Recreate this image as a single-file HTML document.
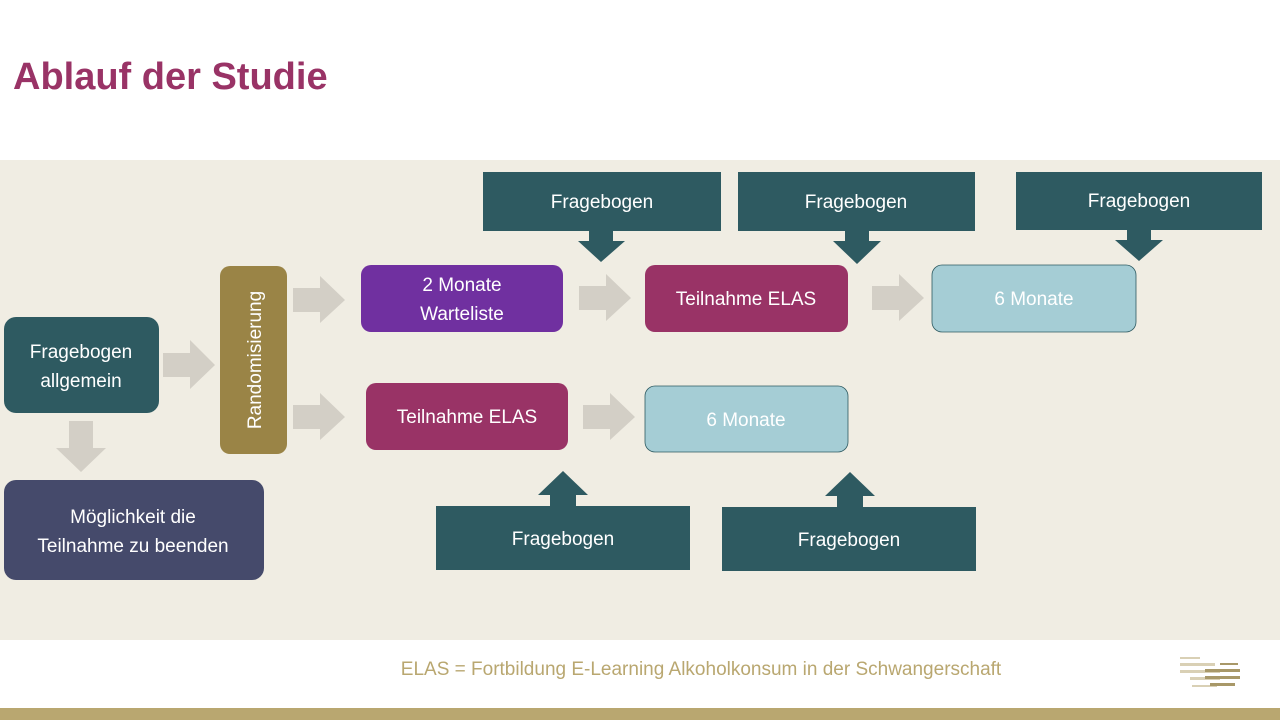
<!DOCTYPE html>
<html><head><meta charset="utf-8"><style>
body{margin:0;width:1280px;height:720px;overflow:hidden;background:#fff;font-family:"Liberation Sans",sans-serif}
</style></head><body>
<svg width="1280" height="720" viewBox="0 0 1280 720" xmlns="http://www.w3.org/2000/svg" font-family="Liberation Sans, sans-serif">
<rect width="1280" height="720" fill="#fff"/>
<text x="13" y="89" font-size="38" font-weight="bold" fill="#993366">Ablauf der Studie</text>
<rect x="0" y="160" width="1280" height="480" fill="#f0ede3"/>
<rect x="0" y="708" width="1280" height="12" fill="#b9a770"/>
<text x="701" y="675" font-size="19" fill="#b9a770" text-anchor="middle">ELAS = Fortbildung E-Learning Alkoholkonsum in der Schwangerschaft</text>
<g fill="#d9d0b5"><rect x="1180" y="657" width="20" height="2"/><rect x="1180" y="663" width="35" height="3"/><rect x="1180" y="670" width="40" height="3"/><rect x="1190" y="677" width="30" height="3"/><rect x="1192" y="685" width="25" height="2"/></g>
<g fill="#a89868"><rect x="1220" y="663" width="18" height="2"/><rect x="1205" y="669" width="35" height="3"/><rect x="1205" y="676" width="35" height="3"/><rect x="1210" y="683" width="25" height="3"/></g>
<g fill="#d3cfc6">
<path d="M163 353H190V340L215 365L190 389V377H163Z"/>
<path d="M293 288H320V276L345 300L320 323V312H293Z"/>
<path d="M293 405H320V393L345 417L320 440V429H293Z"/>
<path d="M579 286H606V274L631 298L606 321V310H579Z"/>
<path d="M872 286H899V274L924 298L899 321V310H872Z"/>
<path d="M583 405H610V393L635 417L610 440V429H583Z"/>
<path d="M69 421H93V448H106L81 472L56 448H69Z"/>
</g>
<rect x="4" y="317" width="155" height="96" rx="12" fill="#2e5a61"/>
<text fill="#fff" font-size="19" text-anchor="middle"><tspan x="81" y="358">Fragebogen</tspan><tspan x="81" y="387">allgemein</tspan></text>
<rect x="4" y="480" width="260" height="100" rx="12" fill="#454a6b"/>
<text fill="#fff" font-size="19" text-anchor="middle"><tspan x="133" y="523">Möglichkeit die</tspan><tspan x="133" y="552">Teilnahme zu beenden</tspan></text>
<rect x="220" y="266" width="67" height="188" rx="10" fill="#9a8446"/>
<text transform="translate(261 360) rotate(-90)" fill="#fff" font-size="19" text-anchor="middle">Randomisierung</text>
<rect x="361" y="265" width="202" height="67" rx="10" fill="#7030a0"/>
<text fill="#fff" font-size="19" text-anchor="middle"><tspan x="462" y="291">2 Monate</tspan><tspan x="462" y="320">Warteliste</tspan></text>
<rect x="645" y="265" width="203" height="67" rx="10" fill="#993366"/>
<text x="746" y="305" fill="#fff" font-size="19" text-anchor="middle">Teilnahme ELAS</text>
<rect x="932" y="265" width="204" height="67" rx="10" fill="#a5cdd5" stroke="#2e5a61" stroke-width="0.8"/>
<text x="1034" y="305" fill="#fff" font-size="19" text-anchor="middle">6 Monate</text>
<rect x="366" y="383" width="202" height="67" rx="10" fill="#993366"/>
<text x="467" y="423" fill="#fff" font-size="19" text-anchor="middle">Teilnahme ELAS</text>
<rect x="645" y="386" width="203" height="66" rx="10" fill="#a5cdd5" stroke="#2e5a61" stroke-width="0.8"/>
<text x="746" y="426" fill="#fff" font-size="19" text-anchor="middle">6 Monate</text>
<g fill="#2e5a61">
<path d="M483 172H721V231H613V241H625L601 262L578 241H589V231H483Z"/>
<path d="M738 172H975V231H869V241H881L857 264L833 241H845V231H738Z"/>
<path d="M1016 172H1262V230H1151V240H1163L1139 261L1115 240H1127V230H1016Z"/>
<path d="M436 570V506H576V495H588L563 471L538 495H550V506H690V570Z"/>
<path d="M722 571V507H863V496H875L850 472L825 496H837V507H976V571Z"/>
</g>
<g fill="#fff" font-size="19" text-anchor="middle">
<text x="602" y="208">Fragebogen</text>
<text x="856" y="208">Fragebogen</text>
<text x="1139" y="207">Fragebogen</text>
<text x="563" y="545">Fragebogen</text>
<text x="849" y="546">Fragebogen</text>
</g>
</svg>
</body></html>
